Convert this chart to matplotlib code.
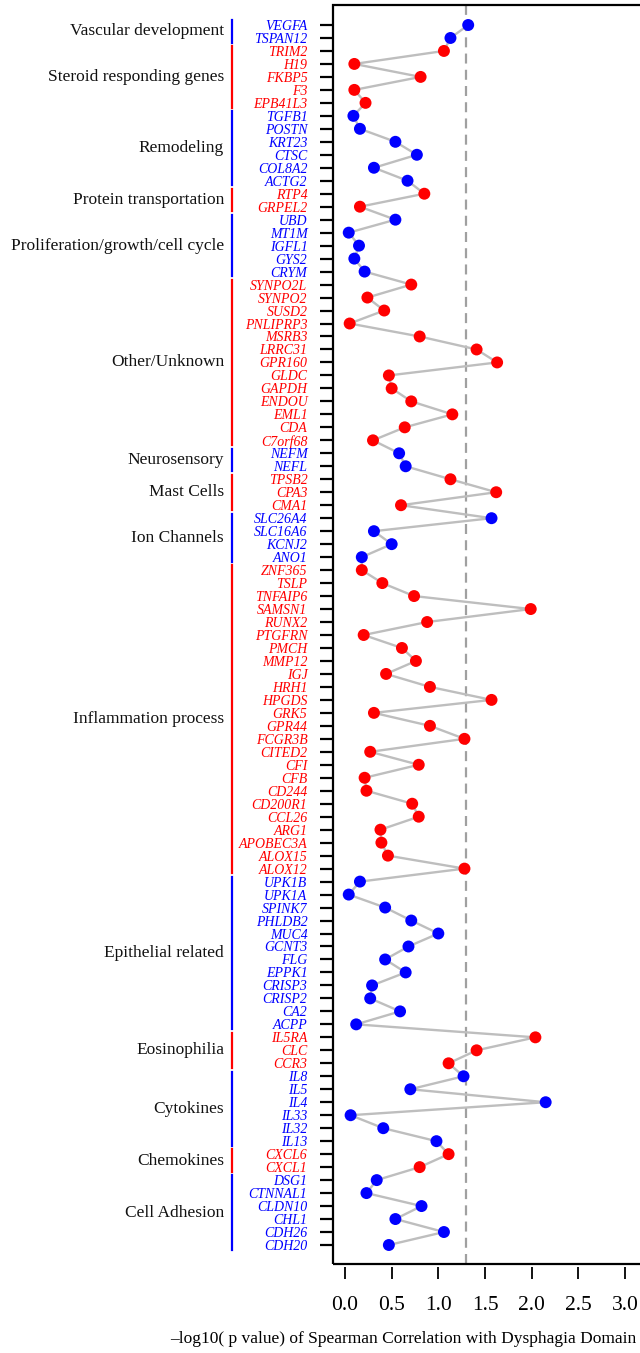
import matplotlib
matplotlib.use("Agg")
import matplotlib.pyplot as plt
import matplotlib.transforms as mtransforms
from matplotlib.lines import Line2D
from matplotlib.patches import Rectangle

plt.rcParams['font.family'] = ['Liberation Serif', 'DejaVu Serif']

group_names = ["Vascular development", "Steroid responding genes", "Remodeling",
               "Protein transportation", "Proliferation/growth/cell cycle",
               "Other/Unknown", "Neurosensory", "Mast Cells", "Ion Channels",
               "Inflammation process", "Epithelial related", "Eosinophilia",
               "Cytokines", "Chemokines", "Cell Adhesion"]
group_sizes = [2, 5, 6, 2, 5, 13, 2, 3, 4, 24, 12, 3, 6, 2, 6]
group_colors = ["blue", "red"] * 7 + ["blue"]

genes = ["VEGFA", "TSPAN12",
         "TRIM2", "H19", "FKBP5", "F3", "EPB41L3",
         "TGFB1", "POSTN", "KRT23", "CTSC", "COL8A2", "ACTG2",
         "RTP4", "GRPEL2",
         "UBD", "MT1M", "IGFL1", "GYS2", "CRYM",
         "SYNPO2L", "SYNPO2", "SUSD2", "PNLIPRP3", "MSRB3", "LRRC31", "GPR160",
         "GLDC", "GAPDH", "ENDOU", "EML1", "CDA", "C7orf68",
         "NEFM", "NEFL",
         "TPSB2", "CPA3", "CMA1",
         "SLC26A4", "SLC16A6", "KCNJ2", "ANO1",
         "ZNF365", "TSLP", "TNFAIP6", "SAMSN1", "RUNX2", "PTGFRN", "PMCH",
         "MMP12", "IGJ", "HRH1", "HPGDS", "GRK5", "GPR44", "FCGR3B", "CITED2",
         "CFI", "CFB", "CD244", "CD200R1", "CCL26", "ARG1", "APOBEC3A",
         "ALOX15", "ALOX12",
         "UPK1B", "UPK1A", "SPINK7", "PHLDB2", "MUC4", "GCNT3", "FLG", "EPPK1",
         "CRISP3", "CRISP2", "CA2", "ACPP",
         "IL5RA", "CLC", "CCR3",
         "IL8", "IL5", "IL4", "IL33", "IL32", "IL13",
         "CXCL6", "CXCL1",
         "DSG1", "CTNNAL1", "CLDN10", "CHL1", "CDH26", "CDH20"]

neglog_p = [1.32, 1.13,
            1.06, 0.10, 0.81, 0.10, 0.22,
            0.09, 0.16, 0.54, 0.77, 0.31, 0.67,
            0.85, 0.16,
            0.54, 0.04, 0.15, 0.10, 0.21,
            0.71, 0.24, 0.42, 0.05, 0.80, 1.41, 1.63,
            0.47, 0.50, 0.71, 1.15, 0.64, 0.30,
            0.58, 0.65,
            1.13, 1.62, 0.60,
            1.57, 0.31, 0.50, 0.18,
            0.18, 0.40, 0.74, 1.99, 0.88, 0.20, 0.61,
            0.76, 0.44, 0.91, 1.57, 0.31, 0.91, 1.28, 0.27,
            0.79, 0.21, 0.23, 0.72, 0.79, 0.38, 0.39,
            0.46, 1.28,
            0.16, 0.04, 0.43, 0.71, 1.00, 0.68, 0.43, 0.65,
            0.29, 0.27, 0.59, 0.12,
            2.04, 1.41, 1.11,
            1.27, 0.70, 2.15, 0.06, 0.41, 0.98,
            1.11, 0.80,
            0.34, 0.23, 0.82, 0.54, 1.06, 0.47]

threshold = 1.3
xticks = [0.0, 0.5, 1.0, 1.5, 2.0, 2.5, 3.0]
xlabel = "\u2013log10( p value) of Spearman Correlation with Dysphagia Domain"

W, H = 640, 1353
fig = plt.figure(figsize=(W / 100, H / 100), dpi=100)
ax_left, ax_top, ax_bottom, ax_right = 333, 5, 1264, 700
ax = fig.add_axes([ax_left / W, 1 - ax_bottom / H,
                   (ax_right - ax_left) / W, (ax_bottom - ax_top) / H])

# per-gene colours from groups
gene_colors = []
for c, n in zip(group_colors, group_sizes):
    gene_colors += [c] * n
ypos = list(range(len(genes)))

ax.plot(neglog_p, ypos, color="#BEBEBE", lw=1.7, zorder=2)
ax.scatter(neglog_p, ypos, c=gene_colors, s=74, zorder=3, linewidths=0)
ax.axvline(threshold, color="#A0A0A0", lw=1.6, dashes=(4.5, 2.8), zorder=1)

px_per_unit = 93.33
ax.set_xlim(-(345 - ax_left) / px_per_unit, (ax_right - 345) / px_per_unit)
row = (1245 - 25) / (len(genes) - 1)
ax.set_ylim((ax_bottom - 25) / row, -(25 - ax_top) / row)

for s in ax.spines.values():
    s.set_visible(False)
ax.spines['bottom'].set_position(('outward', 2.2))
ax.add_patch(Rectangle((0, 0), 1, 1, transform=ax.transAxes, fill=False,
                       edgecolor="black", lw=1.6, clip_on=False, zorder=5))

ax.set_xticks(xticks)
ax.set_xticklabels([f"{t:.1f}" for t in xticks], fontsize=15.5)
ax.tick_params(axis='x', direction='out', length=8.5, width=1.3, pad=12)

ax.set_yticks(ypos)
ax.set_yticklabels(genes, fontsize=10, fontstyle='italic')
ax.tick_params(axis='y', direction='out', length=9.4, width=1.6, pad=9.0)
for tick, c in zip(ax.yaxis.get_major_ticks(), gene_colors):
    tick.tick1line.set_color(c)
    tick.label1.set_color(c)

# group brackets and labels
trans = mtransforms.blended_transform_factory(fig.transFigure, ax.transData)
start = 0
for name, n, c in zip(group_names, group_sizes, group_colors):
    y0, y1 = start - 0.36, start + n - 1 + 0.36
    ax.add_line(Line2D([232 / W, 232 / W], [y0, y1], transform=trans,
                       color=c, lw=1.6, clip_on=False))
    ax.text(224 / W, start + (n - 1) / 2, name, transform=trans,
            ha='right', va='center', fontsize=12.5, color="#111111")
    start += n

fig.text(170 / W, 1 - 1339 / H, xlabel, ha='left', va='center', fontsize=12.5)

fig.savefig("out.png", dpi=100)
